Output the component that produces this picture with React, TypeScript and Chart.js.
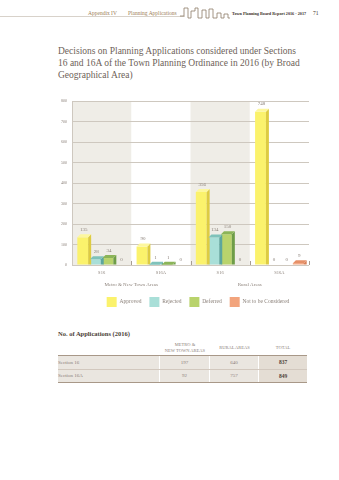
import React, { useEffect, useRef } from 'react';
import { Chart, registerables } from 'chart.js';

Chart.register(...registerables);

const categories = ['S16', 'S16A', 'S16', 'S16A'];
const areaLabels = ['Metro & New Town Areas', 'Rural Areas'];
const seriesNames = ['Approved', 'Rejected', 'Deferred', 'Not to be Considered'];
const approved = [135, 90, 356, 748];
const rejected = [28, 1, 134, 0];
const deferred = [34, 1, 150, 0];
const notConsidered = [0, 0, 0, 9];
const yMax = 800;
const yStep = 100;

const frontColors = ['#FBF26C', '#A9DFD8', '#B9D36C', '#F2A47D'];
const sideColors = ['#DDCB42', '#5DA69E', '#6E9D48', '#D9825A'];
const topColors = ['#FDF79E', '#7FC2BA', '#8BB458', '#E69068'];

const tableRows = ['Section 16', 'Section 16A'];
const metroTotals = [197, 92];
const ruralTotals = [640, 757];
const overallTotals = [837, 849];

const textColor = '#8B8079';
const serif = "'Liberation Serif', 'DejaVu Serif', serif";

const bandsPlugin = {
  id: 'bands',
  beforeDraw(chart: any) {
    const { ctx, chartArea } = chart;
    const xs = chart.scales.x;
    const half = (xs.getPixelForValue(1) - xs.getPixelForValue(0)) / 2;
    ctx.save();
    ctx.fillStyle = '#EFEDE7';
    [0, 2].forEach((i) => {
      const c = xs.getPixelForValue(i);
      ctx.fillRect(c - half, chartArea.top, half * 2, chartArea.bottom - chartArea.top);
    });
    ctx.restore();
  },
  afterDraw(chart: any) {
    const { ctx, chartArea } = chart;
    const xs = chart.scales.x;
    const half = (xs.getPixelForValue(1) - xs.getPixelForValue(0)) / 2;
    ctx.save();
    ctx.strokeStyle = '#A89D92';
    ctx.lineWidth = 1;
    for (let i = 0; i < categories.length; i++) {
      const bx = Math.round(xs.getPixelForValue(i) + half) + 0.5;
      ctx.beginPath();
      ctx.moveTo(bx, chartArea.bottom);
      ctx.lineTo(bx, chartArea.bottom - 4);
      ctx.stroke();
    }
    ctx.restore();
  },
};

const bars3dPlugin = {
  id: 'bars3d',
  afterDatasetsDraw(chart: any) {
    const { ctx } = chart;
    const d = 3;
    ctx.save();
    chart.data.datasets.forEach((ds: any, di: number) => {
      const meta = chart.getDatasetMeta(di);
      meta.data.forEach((bar: any, i: number) => {
        const v = ds.data[i];
        const { x, y, base, width } = bar.getProps(['x', 'y', 'base', 'width'], true);
        const left = x - width / 2;
        const right = x + width / 2;
        if (v > 0) {
          ctx.fillStyle = sideColors[di];
          ctx.beginPath();
          ctx.moveTo(right, y);
          ctx.lineTo(right + d, y - d);
          ctx.lineTo(right + d, base);
          ctx.lineTo(right, base);
          ctx.closePath();
          ctx.fill();
          ctx.fillStyle = topColors[di];
          ctx.beginPath();
          ctx.moveTo(left, y);
          ctx.lineTo(left + d, y - d);
          ctx.lineTo(right + d, y - d);
          ctx.lineTo(right, y);
          ctx.closePath();
          ctx.fill();
        }
        ctx.fillStyle = textColor;
        ctx.font = `5px ${serif}`;
        ctx.textAlign = 'center';
        ctx.textBaseline = 'bottom';
        const ty = v > 0 ? y - d - 2 : base - 3;
        ctx.fillText(String(v), x + 1, ty);
      });
    });
    ctx.restore();
  },
};

function ChartBox() {
  const ref = useRef<HTMLCanvasElement>(null);
  useEffect(() => {
    const canvas = ref.current;
    if (!canvas) return;
    const series = [approved, rejected, deferred, notConsidered];
    const chart = new Chart(canvas, {
      type: 'bar',
      data: {
        labels: categories,
        datasets: series.map((data, i) => ({
          label: seriesNames[i],
          data,
          backgroundColor: frontColors[i],
          borderWidth: 0,
          categoryPercentage: 0.85,
          barPercentage: 0.86,
        })),
      },
      options: {
        responsive: false,
        animation: false,
        devicePixelRatio: 1,
        layout: { padding: { top: 9, left: 0, right: 0, bottom: 0 } },
        plugins: {
          legend: {
            position: 'bottom',
            labels: {
              boxWidth: 10,
              boxHeight: 10,
              padding: 8,
              color: textColor,
              font: { family: serif, size: 5.5 },
            },
          },
          tooltip: { enabled: false },
        },
        scales: {
          x: {
            grid: { display: false, drawTicks: false },
            border: { display: false },
            ticks: { padding: 5, color: textColor, font: { family: serif, size: 4.5 } },
            afterFit: (s: any) => { s.height = 12; },
          },
          x2: {
            type: 'category',
            labels: areaLabels,
            position: 'bottom',
            offset: true,
            weight: 1,
            grid: { display: false, drawTicks: false },
            border: { display: false },
            ticks: { padding: 5, color: textColor, font: { family: serif, size: 5 } },
            afterFit: (s: any) => { s.height = 12; },
          },
          y: {
            min: 0,
            max: yMax,
            ticks: { stepSize: yStep, padding: 5, color: textColor, font: { family: serif, size: 4 } },
            grid: { color: '#CEC8BF', drawTicks: false },
            border: { display: true, color: '#CEC8BF' },
            afterFit: (s: any) => { s.width = 14; },
          },
          y2: {
            position: 'right',
            grid: { display: false, drawTicks: false },
            ticks: { display: false },
            border: { display: false },
            afterFit: (s: any) => { s.width = 29; },
          },
        },
      } as any,
      plugins: [bandsPlugin, bars3dPlugin],
    });
    return () => chart.destroy();
  }, []);
  return (
    <canvas
      ref={ref}
      width={280}
      height={225}
      style={{ position: 'absolute', left: 58, top: 92, width: 280, height: 225 }}
    />
  );
}

const abs = (o: React.CSSProperties): React.CSSProperties => ({ position: 'absolute', ...o });

export default function App() {
  const colX = [58, 160, 210, 259, 307];
  return (
    <div style={abs({ left: 0, top: 0, width: 339, height: 480, background: '#fff', fontFamily: serif, overflow: 'hidden' })}>
      {/* header */}
      <div style={abs({ left: 0, top: 16, width: 185, height: 1, background: '#D8D2CA' })} />
      <div style={abs({ left: 88, top: 10, fontSize: 5.5, color: '#9C7E55', whiteSpace: 'nowrap' })}>Appendix IV</div>
      <div style={abs({ left: 128, top: 10, fontSize: 5.5, color: '#9C7E55', whiteSpace: 'nowrap' })}>Planning Applications</div>
      <svg style={abs({ left: 180, top: 6, width: 60, height: 14 })} viewBox="0 0 60 14">
        <polyline
          fill="none"
          stroke="#8E7B68"
          strokeWidth="0.8"
          points="0,10 4,10 4,2 8,2 8,12 11,12 11,5 15,5 15,2 18,2 18,12 22,12 22,4 26,4 26,12 29,12 29,3 33,3 33,12 37,12 37,7 41,7 41,12 44,12 44,8 48,8 48,12 50,12"
        />
      </svg>
      <div style={abs({ left: 232, top: 10.5, fontSize: 4.2, color: '#3E332C', fontWeight: 'bold', whiteSpace: 'nowrap' })}>
        Town Planning Board Report 2016 - 2017
      </div>
      <div style={abs({ left: 313, top: 10, fontSize: 5.5, color: '#3E332C', whiteSpace: 'nowrap' })}>71</div>

      {/* title */}
      <div style={abs({ left: 58, top: 45, width: 260, fontSize: 9.5, lineHeight: '12px', color: '#6E5F58' })}>
        Decisions on Planning Applications considered under Sections
        <br />
        16 and 16A of the Town Planning Ordinance in 2016 (by Broad
        <br />
        Geographical Area)
      </div>

      <ChartBox />

      {/* table */}
      <div style={abs({ left: 58, top: 330, fontSize: 6.5, fontWeight: 'bold', color: '#4A3D35', whiteSpace: 'nowrap' })}>
        No. of Applications (2016)
      </div>
      <div style={abs({ left: colX[1], top: 342, width: colX[2] - colX[1], textAlign: 'center', fontSize: 4.5, lineHeight: '6px', color: textColor })}>
        METRO &amp;
        <br />
        NEW TOWN AREAS
      </div>
      <div style={abs({ left: colX[2], top: 345, width: colX[3] - colX[2], textAlign: 'center', fontSize: 4.5, color: textColor })}>
        RURAL AREAS
      </div>
      <div style={abs({ left: colX[3], top: 345, width: colX[4] - colX[3], textAlign: 'center', fontSize: 4.5, color: textColor })}>
        TOTAL
      </div>
      <div style={abs({ left: 58, top: 355, width: 249, height: 1, background: '#A89888' })} />
      {tableRows.map((r, i) => {
        const top = 356 + i * 13.5;
        const cells = [r, String(metroTotals[i]), String(ruralTotals[i]), String(overallTotals[i])];
        return (
          <React.Fragment key={r}>
            {cells.map((c, j) => (
              <div
                key={j}
                style={abs({
                  left: colX[j],
                  top,
                  width: colX[j + 1] - colX[j] - (j < 3 ? 1 : 0),
                  height: 12.5,
                  background: j === 3 ? '#E4DDD4' : '#EAE6E0',
                  display: 'flex',
                  alignItems: 'center',
                  justifyContent: j === 0 ? 'flex-start' : 'center',
                  boxSizing: 'border-box',
                  fontSize: j === 3 ? 5.5 : 5,
                  fontWeight: j === 3 ? 'bold' : 'normal',
                  color: j === 3 ? '#4E4038' : textColor,
                })}
              >
                {c}
              </div>
            ))}
            {i === 0 && <div style={abs({ left: 58, top: top + 12.5, width: 249, height: 1, background: '#D2C8BE' })} />}
          </React.Fragment>
        );
      })}
      <div style={abs({ left: 58, top: 382, width: 249, height: 1, background: '#A89888' })} />
    </div>
  );
}
